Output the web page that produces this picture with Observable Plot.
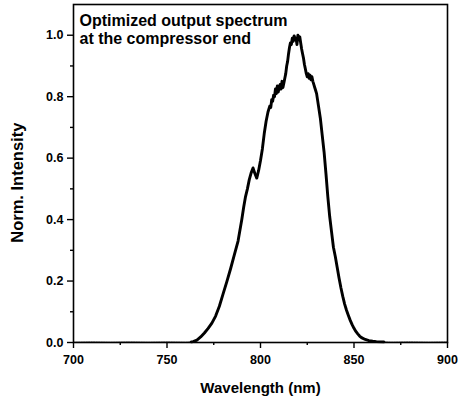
<!DOCTYPE html>
<html>
<head>
<meta charset="utf-8">
<script src="https://cdn.jsdelivr.net/npm/d3@7"></script>
<script src="https://cdn.jsdelivr.net/npm/@observablehq/plot@0.6"></script>
<style>
  html, body { margin: 0; padding: 0; background: #fff; }
</style>
</head>
<body>
<div id="chart"></div>
<script>
const wavelength = [
  700, 710, 720, 730, 740, 750, 760, 763,
  764, 766, 768, 770, 772, 774, 776, 778, 780, 782, 784, 786, 788, 790,
  791, 792, 793, 794, 795, 796, 797, 798, 799, 800, 801, 802, 803, 804,
  805, 805.5, 806, 806.5, 807, 807.5, 808, 808.5, 809, 809.5, 810, 810.5,
  811, 811.5, 812, 812.5, 813, 813.5, 814, 814.5, 815, 815.5, 816, 816.5,
  817, 817.5, 818, 818.5, 819, 819.5, 820, 820.5, 821, 821.5, 822, 822.5,
  823, 823.5, 824, 824.5, 825, 825.5, 826, 826.5, 827, 827.5, 828, 828.5,
  829, 829.5, 830, 831, 832, 833, 834, 835, 836, 837, 838, 839, 840, 841,
  842, 843, 844, 845, 846, 847, 848, 849, 850, 851, 852, 853, 854, 856,
  858, 860, 862, 866, 870, 880, 890, 900
];
const intensity = [
  0.001, 0.002, 0.001, 0.002, 0.001, 0.002, 0.001, 0.002,
  0.003, 0.008, 0.018, 0.031, 0.046, 0.063, 0.086, 0.118, 0.158, 0.198, 0.24, 0.285, 0.33, 0.4,
  0.44, 0.475, 0.5, 0.53, 0.552, 0.568, 0.55, 0.535, 0.56, 0.592, 0.63, 0.68, 0.72, 0.75,
  0.77, 0.765, 0.79, 0.785, 0.805, 0.8, 0.825, 0.81, 0.835, 0.815, 0.83, 0.84,
  0.825, 0.85, 0.83, 0.845, 0.86, 0.875, 0.9, 0.915, 0.94, 0.96, 0.975, 0.97,
  0.99, 0.98, 0.998, 0.985, 0.99, 0.97, 1.0, 0.985, 0.995, 0.975, 0.955, 0.94,
  0.925, 0.905, 0.89, 0.875, 0.865, 0.875, 0.86, 0.87, 0.855, 0.865, 0.85, 0.84,
  0.83, 0.82, 0.81, 0.77, 0.73, 0.675, 0.62, 0.55, 0.475, 0.41, 0.36, 0.31, 0.28, 0.245,
  0.21, 0.178, 0.15, 0.125, 0.105, 0.088, 0.072, 0.058, 0.046, 0.036, 0.028, 0.021, 0.016, 0.01,
  0.006, 0.004, 0.003, 0.002, 0.001, 0.002, 0.001, 0.002
];
const xMajor = [700, 750, 800, 850, 900];
const xMinor = [725, 775, 825, 875];
const yMajor = [0, 0.2, 0.4, 0.6, 0.8, 1.0];
const yMinor = [0.1, 0.3, 0.5, 0.7, 0.9];
const annotation = ["Optimized output spectrum", "at the compressor end"];
const xLabel = "Wavelength (nm)";
const yLabel = "Norm. Intensity";

const data = wavelength.map((w, i) => ({w, v: intensity[i]}));
const core = data.filter(d => d.w >= 763 && d.w <= 866);
const baseLeft = data.filter(d => d.w <= 764);
const baseRight = data.filter(d => d.w >= 862);

const font = "'Liberation Sans', Arial, Helvetica, sans-serif";

const chart = Plot.plot({
  width: 458,
  height: 400,
  marginLeft: 73,
  marginRight: 11,
  marginTop: 4,
  marginBottom: 58,
  style: {fontFamily: font, fontSize: "12.5px", fontWeight: "bold", color: "#000", background: "#fff"},
  x: {domain: [700, 900]},
  y: {domain: [0, 1.1]},
  marks: [
    Plot.line(baseLeft, {x: "w", y: "v", stroke: "#555", strokeWidth: 1, strokeDasharray: "1.5,1"}),
    Plot.line(baseRight, {x: "w", y: "v", stroke: "#555", strokeWidth: 1, strokeDasharray: "1.5,1"}),
    Plot.line(core, {x: "w", y: "v", stroke: "#000", strokeWidth: 2.9, strokeLinejoin: "round"}),
    Plot.frame({stroke: "#000", strokeWidth: 1.6}),
    Plot.axisX({ticks: xMajor, tickSize: 6, tickPadding: 7, tickFormat: d => d3.format("d")(d), label: null, stroke: "#000", strokeWidth: 1.4}),
    Plot.axisX({ticks: xMinor, tickSize: 3, tickFormat: () => "", label: null, stroke: "#000", strokeWidth: 1.4}),
    Plot.axisY({ticks: yMajor, tickSize: 6, tickPadding: 4, tickFormat: d3.format(".1f"), label: null, stroke: "#000", strokeWidth: 1.4}),
    Plot.axisY({ticks: yMinor, tickSize: 3, tickFormat: () => "", label: null, stroke: "#000", strokeWidth: 1.4}),
    Plot.text([xLabel], {frameAnchor: "bottom", dy: 50, textAnchor: "middle", fontSize: 15, fontWeight: "bold", fill: "#000"}),
    Plot.text([yLabel], {x: () => 700, y: () => 0.52, dx: -56, rotate: -90, textAnchor: "middle", fontSize: 16.5, fontWeight: "bold", fill: "#000"}),
    Plot.text([annotation.join("\n")], {frameAnchor: "top-left", dx: 6, dy: 9, textAnchor: "start", lineAnchor: "top", lineHeight: 1.12, fontSize: 16, fontWeight: "bold", fill: "#000"})
  ]
});
document.getElementById("chart").appendChild(chart);
</script>
</body>
</html>
